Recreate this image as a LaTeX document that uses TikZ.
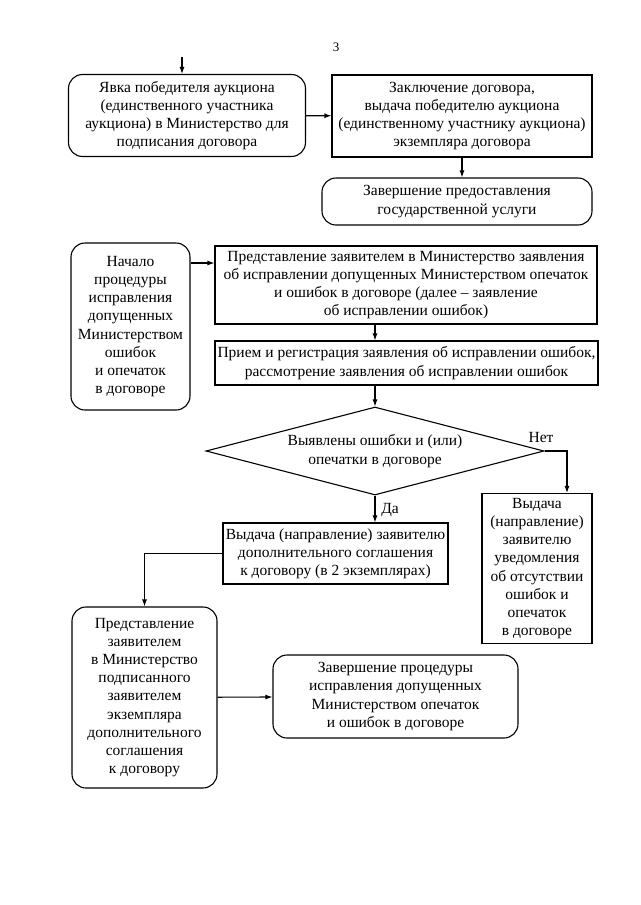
\documentclass[tikz,border=0pt]{standalone}
\usepackage{fontspec}
\setmainfont{Liberation Serif}
\usetikzlibrary{shapes.geometric,arrows.meta}

\begin{document}
\begin{tikzpicture}[x=1pt,y=-1pt,
		font=\fontsize{15.5}{18.2}\selectfont,
		line width=1.1pt,
		>={Latex[length=7pt,width=5pt]},
		box/.style={draw,rectangle,align=center,inner sep=1pt},
		rbox/.style={draw,rectangle,rounded corners=14pt,align=center,inner sep=1pt},
		ask/.style={draw,diamond,aspect=3.84,align=center,inner sep=0pt}]
			\useasboundingbox (0,0) rectangle (640,905);
			\draw (336,47) node [font=\fontsize{13}{15}\selectfont] (pg) {3};
			\coordinate (start) at (182,57);
			\draw (187,115.5) node [rbox,minimum width=237,minimum height=82] (yavka) {Явка победителя аукциона\\(единственного участника\\аукциона) в Министерство для\\подписания договора};
			\draw (462,116) node [box,minimum width=260,minimum height=82] (zakl) {Заключение договора,\\выдача победителю аукциона\\(единственному участнику аукциона)\\экземпляра договора};
			\draw (457,201.5) node [rbox,minimum width=270,minimum height=47] (zav) {Завершение предоставления\\государственной услуги};
			\draw (130.5,326.5) node [rbox,minimum width=119,minimum height=167] (nach) {Начало\\процедуры\\исправления\\допущенных\\Министерством\\ошибок\\и опечаток\\в договоре};
			\draw (406,285) node [box,minimum width=382,minimum height=78] (pred) {Представление заявителем в Министерство заявления\\об исправлении допущенных Министерством опечаток\\и ошибок в договоре (далее – заявление\\об исправлении ошибок)};
			\draw (406.5,363) node [box,minimum width=383,minimum height=44] (priem) {Прием и регистрация заявления об исправлении ошибок,\\рассмотрение заявления об исправлении ошибок};
			\draw (375,451) node [ask,minimum width=338,minimum height=88] (vyyav) {Выявлены ошибки и (или)\\опечатки в договоре};
			\draw (541,437) node (net) {Нет};
			\draw (537,568.5) node [box,minimum width=110,minimum height=150] (uved) {Выдача\\(направление)\\заявителю\\уведомления\\об отсутствии\\ошибок и\\опечаток\\в договоре};
			\draw (390,510) node (da) {Да};
			\draw (335.5,553.5) node [box,minimum width=225,minimum height=61] (vyd) {Выдача (направление) заявителю\\дополнительного соглашения\\к договору (в 2 экземплярах)};
			\draw (144.5,697.5) node [rbox,minimum width=145,minimum height=181] (predst) {Представление\\заявителем\\в Министерство\\подписанного\\заявителем\\экземпляра\\дополнительного\\соглашения\\к договору};
			\draw (395.5,696.5) node [rbox,minimum width=245,minimum height=83] (zavpr) {Завершение процедуры\\исправления допущенных\\Министерством опечаток\\и ошибок в договоре};
			\coordinate (c1) at (0,263);
			\coordinate (col) at (375,0);
			\coordinate (c2) at (567,0);
			\draw[->] (start) -- (start |- yavka.north);
			\draw[->] (zakl.south) -- (zakl.south |- zav.north);
			\draw[->] (c1 -| nach.east) -- (c1 -| pred.west);
			\draw[->] (col |- pred.south) -- (col |- priem.north);
			\draw[->] (col |- priem.south) -- (vyyav.north);
			\draw[->] (vyyav.south) -- (vyyav.south |- vyd.north);
			\draw[->] (vyyav.east) -| (c2 |- uved.north);
			\draw[->] (vyd.west) -| (predst.north);
			\path[->]
				(yavka) edge (zakl)
				(predst) edge (zavpr);
		\end{tikzpicture}
\end{document}
